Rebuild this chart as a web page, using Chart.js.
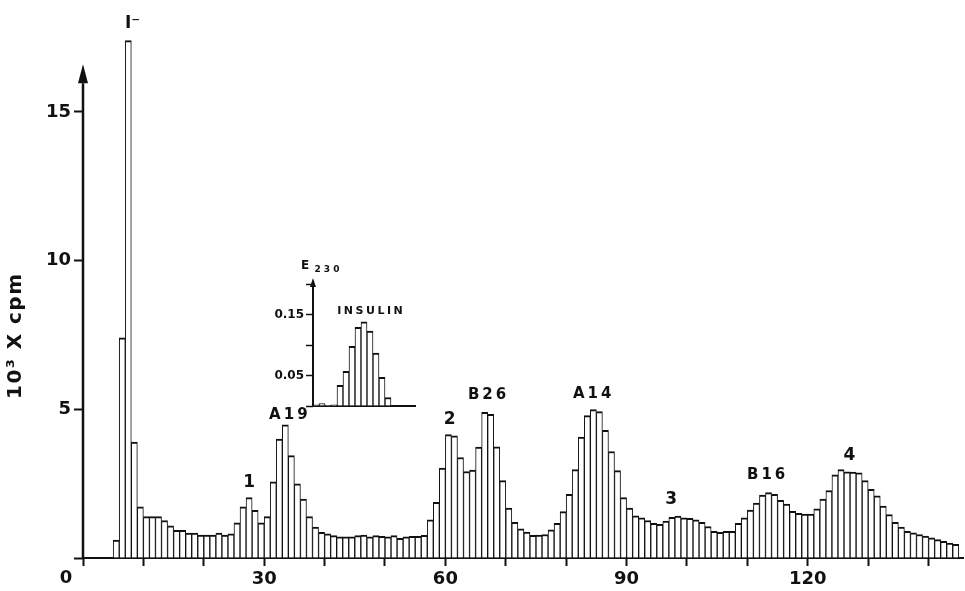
<!DOCTYPE html>
<html>
<head>
<meta charset="utf-8">
<script src="https://cdn.jsdelivr.net/npm/chart.js@4.4.1/dist/chart.umd.min.js"></script>
<style>
  html, body { margin: 0; padding: 0; background: #fff; }
  #wrap { position: relative; width: 965px; height: 591px; }
  #main { position: absolute; left: 0; top: 0; }
  #inset { position: absolute; left: 250px; top: 250px; }
</style>
</head>
<body>
<div id="wrap">
  <canvas id="main" width="965" height="591"></canvas>
  <canvas id="inset" width="180" height="170"></canvas>
</div>
<script>
// fraction number of the first collected tube, one bar per fraction
const firstFraction = 5;

// 10^3 cpm per fraction
const cpm = [
  0.6, 7.4, 17.4, 3.9, 1.72, 1.39, 1.39, 1.39, 1.26, 1.08,
  0.93, 0.93, 0.84, 0.84, 0.77, 0.77, 0.77, 0.84, 0.77, 0.81,
  1.18, 1.72, 2.03, 1.6, 1.18, 1.39, 2.56, 4.0, 4.48, 3.44,
  2.49, 1.98, 1.39, 1.04, 0.86, 0.81, 0.75, 0.71, 0.71, 0.71,
  0.75, 0.77, 0.71, 0.75, 0.73, 0.71, 0.75, 0.66, 0.71, 0.73,
  0.73, 0.76, 1.28, 1.87, 3.02, 4.15, 4.11, 3.38, 2.91, 2.96,
  3.73, 4.9, 4.83, 3.74, 2.6, 1.68, 1.2, 0.98, 0.87, 0.76,
  0.77, 0.79, 0.95, 1.17, 1.56, 2.14, 2.97, 4.07, 4.79, 4.99,
  4.92, 4.29, 3.58, 2.94, 2.03, 1.68, 1.42, 1.35, 1.26, 1.17,
  1.13, 1.24, 1.37, 1.41, 1.35, 1.33, 1.28, 1.2, 1.06, 0.9,
  0.86, 0.9, 0.9, 1.17, 1.35, 1.61, 1.85, 2.12, 2.2, 2.14,
  1.94, 1.81, 1.57, 1.5, 1.48, 1.48, 1.65, 1.98, 2.27, 2.8,
  2.97, 2.9, 2.89, 2.86, 2.6, 2.31, 2.09, 1.75, 1.46, 1.2,
  1.04, 0.9, 0.85, 0.79, 0.74, 0.68, 0.62, 0.56, 0.5, 0.46
];

const xTickLabels = [0, 30, 60, 90, 120];
const yTickLabels = [5, 10, 15];

// peak names and where they sit (fraction, 10^3 cpm)
const peakNames = ['I\u207B', '1', 'A19', '2', 'B26', 'A14', '3', 'B16', '4'];
const peakFractions = [8.2, 27.5, 34.0, 60.7, 66.9, 84.3, 97.4, 113.1, 126.9];
const peakLabelHeights = [17.98, 2.55, 4.8, 4.67, 5.47, 5.5, 1.95, 2.79, 3.44];

// inset: insulin standard, E230 per fraction
const insulinE230 = [0.002, 0.004, 0.001, 0.002, 0.034, 0.057, 0.098, 0.129, 0.138, 0.123, 0.087, 0.047, 0.014];
const insetTickLabels = ['0.05', '0.15'];

const INK = '#111';
const FONT = "'DejaVu Sans', 'Liberation Sans', sans-serif";

Chart.defaults.font.family = FONT;
Chart.defaults.font.weight = 'bold';
Chart.defaults.color = INK;
Chart.defaults.animation = false;

const barStyle = {
  backgroundColor: '#fff',
  borderColor: INK,
  borderWidth: { top: 2, left: 1, right: 1, bottom: 0 },
  borderSkipped: false,
  barPercentage: 1,
  categoryPercentage: 1,
};

// y axis with an arrow head, drawn up to opts.top
const axisArrow = {
  id: 'axisArrow',
  afterDatasetsDraw(chart, args, opts) {
    const { ctx } = chart;
    const x = chart.scales.x.getPixelForValue(0);
    const y0 = chart.scales.y.getPixelForValue(0);
    const y1 = chart.scales.y.getPixelForValue(opts.top);
    ctx.save();
    ctx.strokeStyle = INK;
    ctx.fillStyle = INK;
    ctx.lineWidth = opts.width;
    ctx.beginPath();
    ctx.moveTo(x, y0 + 1);
    ctx.lineTo(x, y1 + opts.head);
    ctx.stroke();
    ctx.beginPath();
    ctx.moveTo(x, y1);
    ctx.lineTo(x - opts.half, y1 + opts.head);
    ctx.lineTo(x + opts.half, y1 + opts.head);
    ctx.closePath();
    ctx.fill();
    ctx.restore();
  }
};

function drawText(ctx, text, x, y, size, spacing) {
  ctx.font = `bold ${size}px ${FONT}`;
  ctx.letterSpacing = `${spacing}px`;
  ctx.textAlign = 'center';
  ctx.textBaseline = 'middle';
  ctx.fillText(text, x + spacing / 2, y);
}

const mainLabels = {
  id: 'mainLabels',
  afterDraw(chart) {
    const { ctx, scales: { x, y } } = chart;
    ctx.save();
    ctx.fillStyle = INK;
    peakNames.forEach((name, i) => {
      drawText(ctx, name, x.getPixelForValue(peakFractions[i]), y.getPixelForValue(peakLabelHeights[i]),
        name.length > 2 ? 15 : 17, name.length > 2 ? 3 : 0);
    });
    // origin label sits a little left of the axis in the original
    drawText(ctx, '0', x.getPixelForValue(0) - 17, y.getPixelForValue(0) + 20, 18, 0);
    // y title
    ctx.translate(16, y.getPixelForValue(7.45));
    ctx.rotate(-Math.PI / 2);
    drawText(ctx, '10\u00B3 X cpm', 0, 0, 20, 1.5);
    ctx.restore();
  }
};

new Chart(document.getElementById('main'), {
  type: 'bar',
  data: {
    datasets: [{
      data: cpm.map((v, i) => ({ x: firstFraction + i + 0.5, y: v })),
      ...barStyle,
    }]
  },
  options: {
    responsive: false,
    devicePixelRatio: 1,
    layout: { padding: { top: 5, right: 2, left: 0, bottom: 0 } },
    plugins: {
      legend: { display: false },
      tooltip: { enabled: false },
      axisArrow: { top: 16.6, width: 2.5, head: 19, half: 5 },
    },
    scales: {
      x: {
        type: 'linear',
        min: 0,
        max: 145.7,
        offset: false,
        grid: { drawOnChartArea: false, tickLength: 8, tickWidth: 2, tickColor: INK, offset: false },
        border: { display: true, color: INK, width: 2 },
        ticks: {
          stepSize: 10,
          includeBounds: false,
          autoSkip: false,
          maxRotation: 0,
          padding: 3,
          font: { size: 18, weight: 'bold' },
          callback: (v) => (xTickLabels.includes(v) && v !== 0 ? String(v) : ''),
        },
        afterFit(scale) { scale.height = 33; },
      },
      y: {
        min: 0,
        max: 18.3,
        grid: { drawOnChartArea: false, tickLength: 9, tickWidth: 2, tickColor: INK },
        border: { display: false },
        ticks: {
          stepSize: 5,
          includeBounds: false,
          autoSkip: false,
          padding: 3,
          font: { size: 18, weight: 'bold' },
          callback: (v) => (yTickLabels.includes(v) ? String(v) : ''),
        },
        afterFit(scale) { scale.width = 83; },
      }
    }
  },
  plugins: [axisArrow, mainLabels]
});

const insetLabels = {
  id: 'insetLabels',
  afterDraw(chart) {
    const { ctx, scales: { x, y } } = chart;
    ctx.save();
    ctx.fillStyle = INK;
    const ax = x.getPixelForValue(0);
    const top = y.getPixelForValue(0.21);
    drawText(ctx, 'E', ax - 8, top - 12, 12, 0);
    drawText(ctx, '230', ax + 14, top - 8, 9, 3);
    drawText(ctx, 'INSULIN', x.getPixelForValue(9.5), y.getPixelForValue(0.156), 11, 2.5);
    ctx.restore();
  }
};

new Chart(document.getElementById('inset'), {
  type: 'bar',
  data: {
    datasets: [{
      data: insulinE230.map((v, i) => ({ x: i + 0.5, y: v })),
      ...barStyle,
    }]
  },
  options: {
    responsive: false,
    devicePixelRatio: 1,
    layout: { padding: { top: 22, right: 15, left: 0, bottom: 0 } },
    plugins: {
      legend: { display: false },
      tooltip: { enabled: false },
      axisArrow: { top: 0.21, width: 2, head: 9, half: 3 },
    },
    scales: {
      x: {
        type: 'linear',
        min: 0,
        max: 17,
        offset: false,
        grid: { display: false },
        border: { display: true, color: INK, width: 2 },
        ticks: { display: false },
        afterFit(scale) { scale.height = 14; },
      },
      y: {
        min: 0,
        max: 0.22,
        grid: { drawOnChartArea: false, tickLength: 7, tickWidth: 1.5, tickColor: INK },
        border: { display: false },
        ticks: {
          stepSize: 0.05,
          includeBounds: false,
          autoSkip: false,
          padding: 2,
          font: { size: 12, weight: 'bold' },
          callback: (v) => {
            const s = v.toFixed(2);
            return insetTickLabels.includes(s) ? s : '';
          },
        },
        afterFit(scale) { scale.width = 63; },
      }
    }
  },
  plugins: [axisArrow, insetLabels]
});
</script>
</body>
</html>
